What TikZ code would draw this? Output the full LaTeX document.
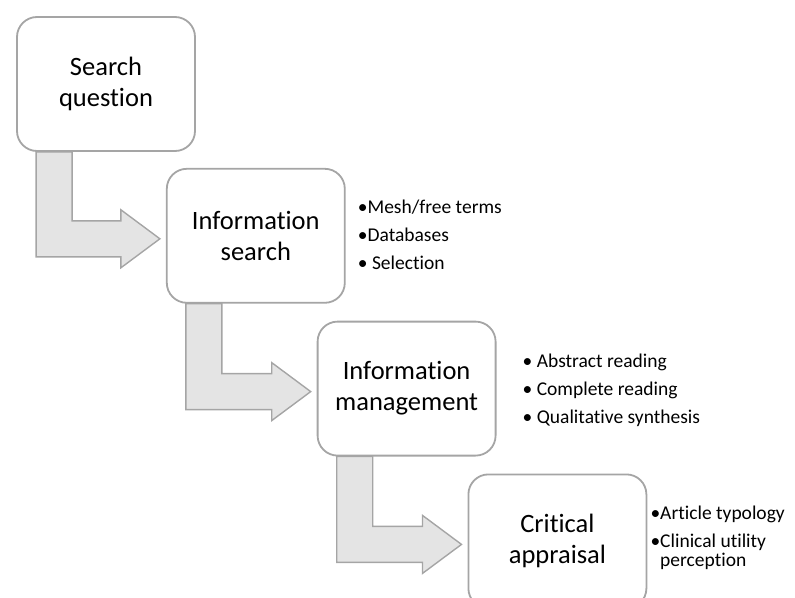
\documentclass[tikz,border=0pt]{standalone}
\usepackage{fontspec}
\setmainfont{Carlito}[Ligatures=NoCommon]
\usetikzlibrary{calc,positioning}
\definecolor{edgegray}{RGB}{165,165,165}
\definecolor{arrowgray}{RGB}{228,228,228}

% bent block arrow from the bottom of one box to the left side of the next
\newcommand{\bentarrow}[2]{%
  \draw[bent] ($(#1.south west)+(20,0)$) coordinate (tail)
    -- ($(#1.south west)+(56,0)$)
    |- ($(#2.west)+(-45,-15)$) -- ++(0,-11)
    -- ($(#2.west)+(-6,3)$)
    -- ($(#2.west)+(-45,32)$) -- ++(0,-11)
    -| (tail) -- cycle;}

\begin{document}
\begin{tikzpicture}[x=1pt, y=-1pt,
  box/.style={draw=edgegray, line width=1.8pt, rounded corners=20pt, fill=white, align=center,
    minimum width=178pt, minimum height=134pt, inner sep=0pt, font=\fontsize{26.5}{31}\selectfont},
  list/.style={align=left, inner sep=0pt, font=\fontsize{19.5}{28}\selectfont},
  bent/.style={draw=edgegray, line width=1.4pt, fill=arrowgray}]

\useasboundingbox (0,0) rectangle (795,597);

\node[box] (question) at (106,84) {Search\\question};
\node[box, below right=16pt and -30pt of question] (search) {Information\\search};
\node[box, below right=17pt and -29pt of search] (manage) {Information\\management};
\node[box, below right=17pt and -29pt of manage] (appraisal) {Critical\\appraisal};

\node[list, right=12pt of search, yshift=1pt] (searchlist)
  {\textbullet Mesh/free terms\\ \textbullet Databases\\ \textbullet\ Selection};
\node[list, right=26pt of manage, yshift=-2pt] (managelist)
  {\textbullet\ Abstract reading\\ \textbullet\ Complete reading\\ \textbullet\ Qualitative synthesis};
\node[list, right=3pt of appraisal, yshift=4pt] (appraisallist)
  {\textbullet Article typology\\ \textbullet Clinical utility\\[-9pt] \phantom{\textbullet}perception};

\bentarrow{question}{search}
\bentarrow{search}{manage}
\bentarrow{manage}{appraisal}

\end{tikzpicture}
\end{document}
